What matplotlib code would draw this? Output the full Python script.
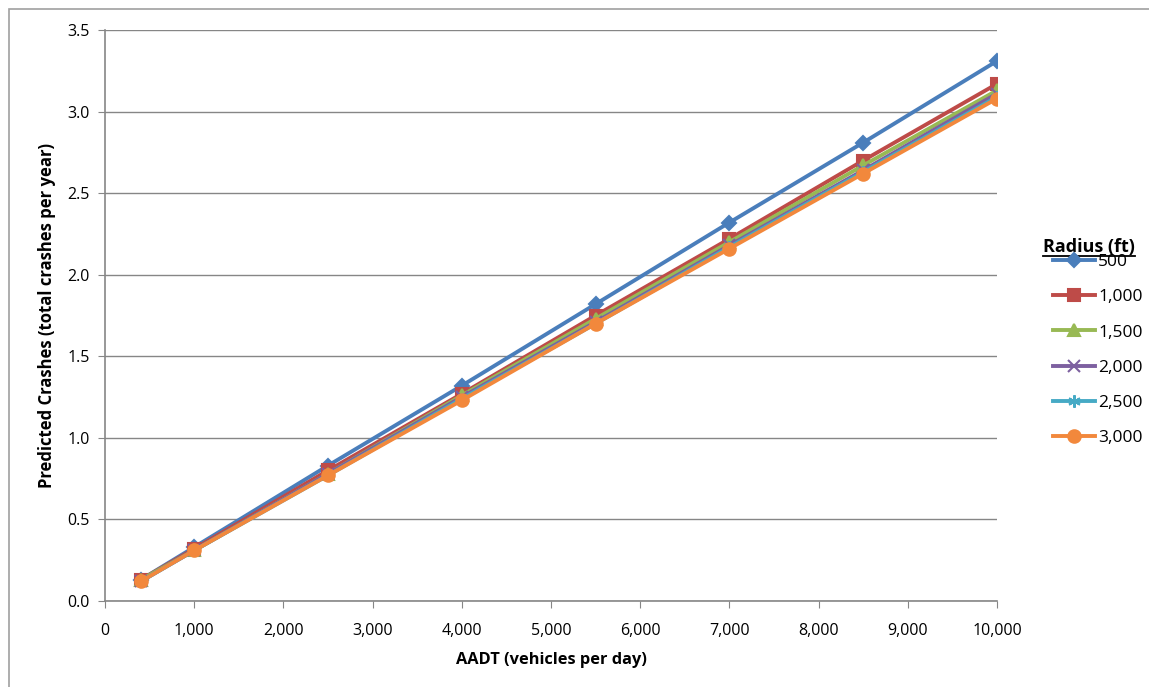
import matplotlib.pyplot as plt
from matplotlib.lines import Line2D
from matplotlib.patches import Rectangle
from matplotlib.ticker import FuncFormatter

plt.rcParams['font.family'] = ['Open Sans', 'DejaVu Sans']

aadt = [400, 1000, 2500, 4000, 5500, 7000, 8500, 10000]
radius_labels = ['500', '1,000', '1,500', '2,000', '2,500', '3,000']
crashes_500 = [0.13, 0.33, 0.83, 1.32, 1.82, 2.32, 2.81, 3.31]
crashes_1000 = [0.13, 0.32, 0.80, 1.27, 1.75, 2.22, 2.70, 3.17]
crashes_1500 = [0.13, 0.31, 0.78, 1.26, 1.73, 2.20, 2.67, 3.13]
crashes_2000 = [0.12, 0.31, 0.78, 1.25, 1.71, 2.18, 2.64, 3.11]
crashes_2500 = [0.12, 0.31, 0.77, 1.24, 1.70, 2.17, 2.63, 3.09]
crashes_3000 = [0.12, 0.31, 0.77, 1.23, 1.70, 2.16, 2.62, 3.08]

series = [crashes_500, crashes_1000, crashes_1500, crashes_2000, crashes_2500, crashes_3000]
colors = ['#4A7EBB', '#BE4B48', '#98B954', '#7D60A0', '#46AAC5', '#F2883C']
markers = ['D', 's', '^', 'x', (6, 2, 0), 'o']
msizes = [7, 8, 8, 8, 9, 9]

fig = plt.figure(figsize=(11.49, 6.87), dpi=100)
ax = fig.add_axes([0.0914, 0.1252, 0.7763, 0.8311])

handles = []
for vals, c, m, ms, lab in zip(series, colors, markers, msizes, radius_labels):
    h, = ax.plot(aadt, vals, color=c, lw=2.8, marker=m, markersize=ms,
                 markeredgecolor=c, markeredgewidth=1.5, label=lab)
    handles.append(h)

ax.set_xlim(0, 10000)
ax.set_ylim(0, 3.5)
ax.set_xticks(range(0, 10001, 1000))
ax.set_yticks([0, 0.5, 1.0, 1.5, 2.0, 2.5, 3.0, 3.5])
ax.xaxis.set_major_formatter(FuncFormatter(lambda v, p: f'{int(v):,}'))
ax.yaxis.set_major_formatter(FuncFormatter(lambda v, p: f'{v:.1f}'))
ax.grid(axis='y', color='#868686', lw=1)
ax.set_axisbelow(True)
for s in ['top', 'right']:
    ax.spines[s].set_visible(False)
for s in ['left', 'bottom']:
    ax.spines[s].set_color('#868686')
    ax.spines[s].set_linewidth(1.2)
ax.tick_params(direction='out', length=5, color='#868686', labelsize=11.5, pad=6)
ax.tick_params(axis='x', pad=11)
ax.set_xlabel('AADT (vehicles per day)', fontweight='bold', fontsize=11.8, labelpad=9)
ax.set_ylabel('Predicted Crashes (total crashes per year)', fontweight='bold', fontsize=12, labelpad=8)

leg = fig.legend(handles=handles, loc='upper left', bbox_to_anchor=(0.9105, 0.640),
                 frameon=False, fontsize=12.5, handlelength=2.4, handletextpad=0.2,
                 labelspacing=1.09, borderaxespad=0)

fig.text(0.9478, 0.633, 'Radius (ft)', fontweight='bold', fontsize=13, ha='center', va='baseline')
fig.add_artist(Line2D([0.9078, 0.9878], [0.628, 0.628], color='black', lw=1.3))

fig.add_artist(Rectangle((0.0078, -0.01), 1.0, 0.997, transform=fig.transFigure,
                         fill=False, edgecolor='#A0A0A0', lw=1.2))

fig.savefig('out.png', dpi=100)
